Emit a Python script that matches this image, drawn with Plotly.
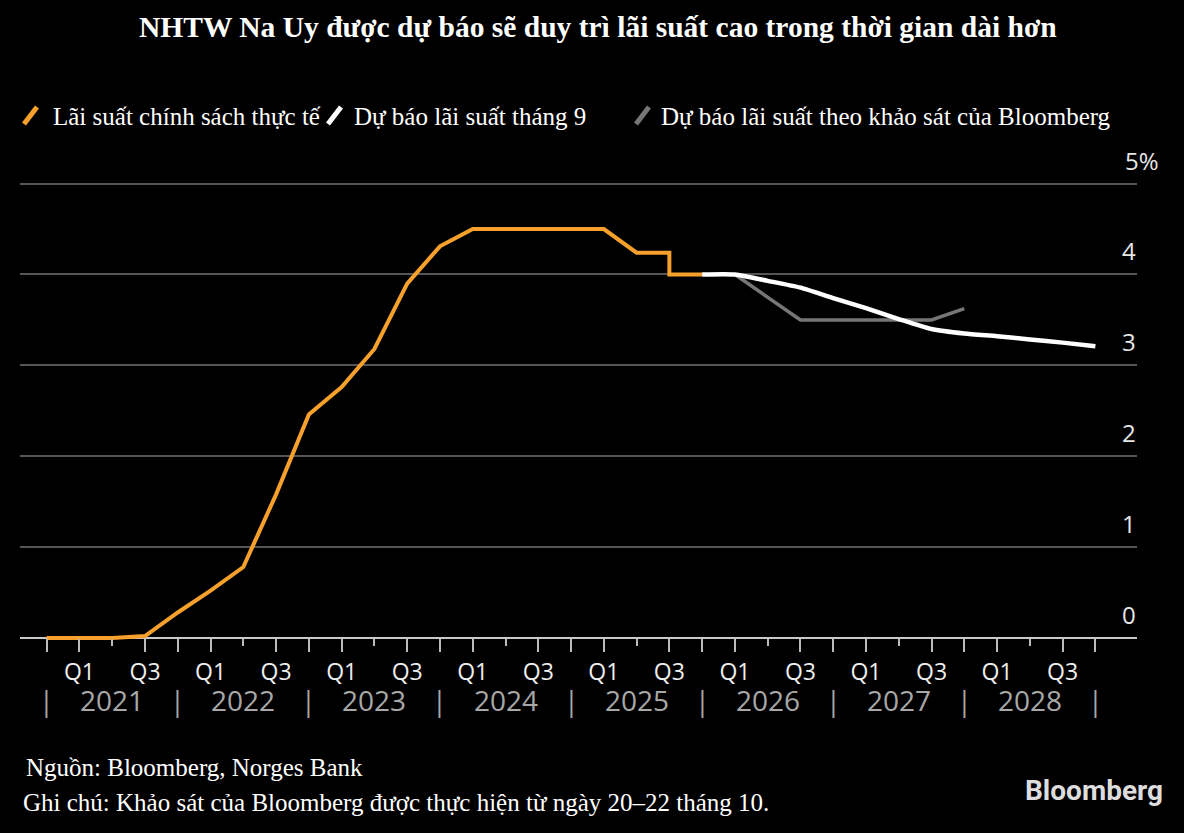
import plotly.graph_objects as go

# ---------------- data ----------------
QUARTERS = [
    "2020 Q4",
    "2021 Q1", "2021 Q2", "2021 Q3", "2021 Q4",
    "2022 Q1", "2022 Q2", "2022 Q3", "2022 Q4",
    "2023 Q1", "2023 Q2", "2023 Q3", "2023 Q4",
    "2024 Q1", "2024 Q2", "2024 Q3", "2024 Q4",
    "2025 Q1", "2025 Q2", "2025 Q3", "2025 Q4",
    "2026 Q1", "2026 Q2", "2026 Q3", "2026 Q4",
    "2027 Q1", "2027 Q2", "2027 Q3", "2027 Q4",
    "2028 Q1", "2028 Q2", "2028 Q3", "2028 Q4",
]

policy_x = [
    "2020 Q4", "2021 Q1", "2021 Q2", "2021 Q3", "2021 Q4",
    "2022 Q1", "2022 Q2", "2022 Q3", "2022 Q4",
    "2023 Q1", "2023 Q2", "2023 Q3", "2023 Q4",
    "2024 Q1", "2024 Q2", "2024 Q3", "2024 Q4",
    "2025 Q1", "2025 Q2", "2025 Q3", "2025 Q3", "2025 Q4",
]
policy_rate = [0.0, 0.0, 0.0, 0.02, 0.28,
               0.52, 0.78, 1.58, 2.46,
               2.76, 3.18, 3.90, 4.31,
               4.50, 4.50, 4.50, 4.50,
               4.50, 4.24, 4.24, 4.00, 4.00]

sept_x = ["2025 Q4", "2026 Q1", "2026 Q2", "2026 Q3", "2026 Q4",
          "2027 Q1", "2027 Q2", "2027 Q3", "2027 Q4",
          "2028 Q1", "2028 Q2", "2028 Q3", "2028 Q4"]
sept_forecast = [4.00, 4.00, 3.93, 3.855, 3.74,
                 3.63, 3.51, 3.40, 3.35,
                 3.32, 3.285, 3.25, 3.21]

survey_x = ["2026 Q1", "2026 Q2", "2026 Q3", "2026 Q4",
            "2027 Q1", "2027 Q2", "2027 Q3", "2027 Q4"]
survey_forecast = [4.00, 3.75, 3.50, 3.50, 3.50, 3.50, 3.50, 3.625]

YEARS = ["2021", "2022", "2023", "2024", "2025", "2026", "2027", "2028"]
Y_TICKS = [0, 1, 2, 3, 4, 5]
Y_LABELS = ["0", "1", "2", "3", "4", "5%"]

TITLE = "NHTW Na Uy được dự báo sẽ duy trì lãi suất cao trong thời gian dài hơn"
LEGEND = ["Lãi suất chính sách thực tế", "Dự báo lãi suất tháng 9",
          "Dự báo lãi suất theo khảo sát của Bloomberg"]
SOURCE = "Nguồn: Bloomberg, Norges Bank"
NOTE = "Ghi chú: Khảo sát của Bloomberg được thực hiện từ ngày 20–22 tháng 10."

# ---------------- styling ----------------
ORANGE = "#F7A02C"
WHITE = "#FFFFFF"
GREY = "#767676"
W, H = 1184, 833
ML, MR, MT, MB = 20, 47, 170, 186
PW, PH = W - ML - MR, H - MT - MB
Y_RANGE = [-0.1, 5.15]
X_RANGE = [-0.815, 33.27]
SERIF = "Liberation Serif, Times New Roman, serif"
SANS = "Open Sans, Roboto, sans-serif"


def px_x(p):
    return (p - ML) / PW


def px_y(p):
    return (H - MB - p) / PH


axis_pos = (0 - Y_RANGE[0]) / (Y_RANGE[1] - Y_RANGE[0])

fig = go.Figure()
fig.add_trace(go.Scatter(x=policy_x, y=policy_rate, mode="lines",
                         line=dict(color=ORANGE, width=4), showlegend=False,
                         hoverinfo="skip"))
fig.add_trace(go.Scatter(x=survey_x, y=survey_forecast, mode="lines",
                         line=dict(color=GREY, width=3.5), showlegend=False,
                         hoverinfo="skip"))
fig.add_trace(go.Scatter(x=sept_x, y=sept_forecast, mode="lines",
                         line=dict(color=WHITE, width=4.5, shape="spline",
                                   smoothing=0.6),
                         showlegend=False, hoverinfo="skip"))
# helper trace to register the secondary tick axis
fig.add_trace(go.Scatter(x=[None], y=[None], xaxis="x2", showlegend=False,
                         hoverinfo="skip"))

long_ticks = [q for i, q in enumerate(QUARTERS) if not q.endswith("Q2")]
long_text = [q.split(" ")[1] if q.endswith(("Q1", "Q3")) else "" for q in long_ticks]
short_ticks = [i for i, q in enumerate(QUARTERS) if q.endswith("Q2")]

fig.update_layout(
    width=W, height=H,
    paper_bgcolor="#000000", plot_bgcolor="#000000",
    margin=dict(l=ML, r=MR, t=MT, b=MB),
    xaxis=dict(type="category", categoryorder="array", categoryarray=QUARTERS,
               range=X_RANGE, anchor="free", position=axis_pos,
               tickmode="array", tickvals=long_ticks, ticktext=long_text,
               ticks="outside", ticklen=13, tickwidth=2, tickcolor="#BBBBBB",
               tickfont=dict(family=SANS, size=23, color="#EEEEEE"),
               showgrid=False, showline=False, zeroline=False),
    xaxis2=dict(type="linear", overlaying="x", range=X_RANGE, anchor="free",
                position=axis_pos, tickmode="array", tickvals=short_ticks,
                ticktext=["" for _ in short_ticks], ticks="outside", ticklen=7,
                tickwidth=2, tickcolor="#BBBBBB", showgrid=False,
                showline=False, zeroline=False),
    yaxis=dict(range=Y_RANGE, tickmode="array", tickvals=Y_TICKS,
               showticklabels=False, showgrid=True, gridcolor="#555555",
               gridwidth=2, zeroline=True, zerolinecolor="#C8C8C8",
               zerolinewidth=2, showline=False),
    showlegend=False,
)

annotations = []
# title
annotations.append(dict(text="<b>" + TITLE + "</b>", xref="paper", yref="paper",
                        x=px_x(598), y=px_y(27), xanchor="center", yanchor="middle",
                        showarrow=False,
                        font=dict(family=SERIF, size=29.5, color="#FFFFFF")))
# legend
legend_text_x = [51, 352, 659]
legend_icon_x = [24, 328, 636]
legend_colors = [ORANGE, WHITE, GREY]
shapes = []
for label, tx, ix, col in zip(LEGEND, legend_text_x, legend_icon_x, legend_colors):
    annotations.append(dict(text=label, xref="paper", yref="paper", x=px_x(tx),
                            y=px_y(116), xanchor="left", yanchor="middle",
                            showarrow=False,
                            font=dict(family=SERIF, size=25, color="#FFFFFF")))
    shapes.append(dict(type="line", xref="paper", yref="paper",
                       x0=px_x(ix), y0=px_y(124), x1=px_x(ix + 13), y1=px_y(107),
                       line=dict(color=col, width=5)))
# y labels
for v, lab in zip(Y_TICKS, Y_LABELS):
    right = 1161 if lab.endswith("%") else 1138
    annotations.append(dict(text=lab, xref="paper", yref="y", x=px_x(right), y=v,
                            xanchor="right", yanchor="bottom", yshift=5,
                            showarrow=False,
                            font=dict(family=SANS, size=24, color="#E6E6E6")))
# year labels and separators
year_pos = px_y(700)
for i, q in enumerate(QUARTERS):
    if q.endswith("Q4"):
        annotations.append(dict(text="|", xref="x", yref="paper", x=q, y=year_pos,
                                xanchor="center", yanchor="middle", showarrow=False,
                                font=dict(family=SANS, size=27, color="#A8A8A8")))
    if q.endswith("Q2"):
        annotations.append(dict(text=q.split(" ")[0], xref="x", yref="paper", x=q,
                                y=year_pos, xanchor="center", yanchor="middle",
                                showarrow=False,
                                font=dict(family=SANS, size=28, color="#A8A8A8")))
# footer
annotations.append(dict(text=SOURCE, xref="paper", yref="paper", x=px_x(24),
                        y=px_y(767), xanchor="left", yanchor="middle", showarrow=False,
                        font=dict(family=SERIF, size=25, color="#FFFFFF")))
annotations.append(dict(text=NOTE, xref="paper", yref="paper", x=px_x(21),
                        y=px_y(802), xanchor="left", yanchor="middle", showarrow=False,
                        font=dict(family=SERIF, size=25, color="#FFFFFF")))
annotations.append(dict(text="<b>Bloomberg</b>", xref="paper", yref="paper",
                        x=px_x(1165), y=px_y(790), xanchor="right", yanchor="middle",
                        showarrow=False,
                        font=dict(family="Roboto, Inter, sans-serif", size=28,
                                  color="#DDDDDD")))

fig.update_layout(annotations=annotations, shapes=shapes)
fig.write_html(
    "out.html",
    config={"displayModeBar": False},
    post_script="document.body.style.margin='0';"
                "document.body.style.background='#000';",
)
